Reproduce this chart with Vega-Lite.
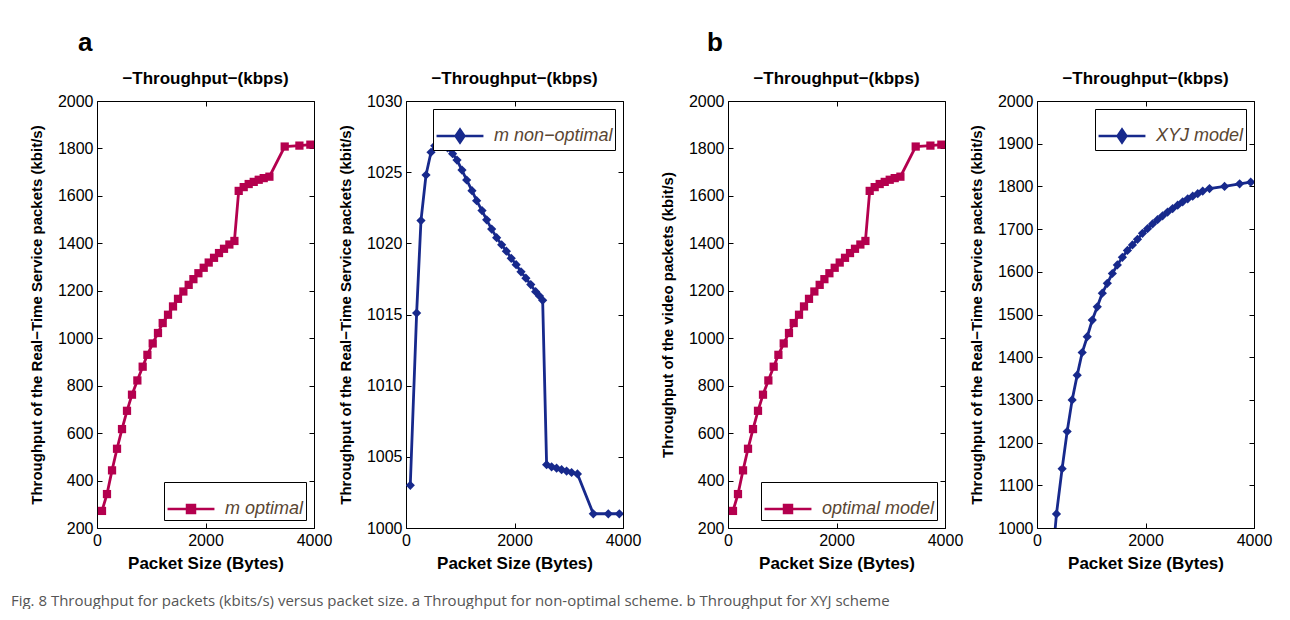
{
  "$schema": "https://vega.github.io/schema/vega-lite/v6.json",
  "autosize": {"type": "pad"},
  "padding": {"left": 10, "top": 29, "right": 0, "bottom": 0},
  "background": "white",
  "config": {
    "font": "Liberation Sans",
    "view": {"stroke": "black", "strokeWidth": 1},
    "axis": {
      "domain": false, "grid": false,
      "ticks": true, "tickColor": "black", "tickSize": -5, "tickWidth": 1,
      "labelFont": "Liberation Sans", "labelFontSize": 16, "labelColor": "black",
      "labelPadding": 9, "labelFlush": false, "labelOverlap": false,
      "titleFont": "Liberation Sans", "titleFontSize": 15, "titleFontWeight": "bold",
      "titleColor": "black", "titlePadding": 13
    },
    "axisX": {"titleFontSize": 17, "titlePadding": 7},
    "legend": {
      "title": null, "labelFont": "Liberation Sans", "labelFontStyle": "italic",
      "labelFontSize": 18, "labelColor": "#5a4632", "strokeColor": "black",
      "fillColor": "white", "padding": 2, "offset": 8, "labelOffset": 9,
      "symbolSize": 2200, "symbolStrokeWidth": 2.5
    },
    "title": {"font": "Liberation Sans", "fontSize": 17, "fontWeight": "bold", "color": "black", "offset": 5}
  },
  "datasets": {
    "optimal": [
      {"bytes": 92, "kbps": 272}, {"bytes": 184, "kbps": 343}, {"bytes": 277, "kbps": 443},
      {"bytes": 369, "kbps": 534}, {"bytes": 461, "kbps": 617}, {"bytes": 553, "kbps": 694},
      {"bytes": 645, "kbps": 762}, {"bytes": 744, "kbps": 822}, {"bytes": 842, "kbps": 880},
      {"bytes": 929, "kbps": 930}, {"bytes": 1027, "kbps": 978}, {"bytes": 1124, "kbps": 1022},
      {"bytes": 1211, "kbps": 1064}, {"bytes": 1309, "kbps": 1099}, {"bytes": 1401, "kbps": 1134},
      {"bytes": 1493, "kbps": 1166}, {"bytes": 1592, "kbps": 1197}, {"bytes": 1690, "kbps": 1225},
      {"bytes": 1777, "kbps": 1249}, {"bytes": 1869, "kbps": 1274}, {"bytes": 1967, "kbps": 1297},
      {"bytes": 2059, "kbps": 1319}, {"bytes": 2157, "kbps": 1339}, {"bytes": 2249, "kbps": 1359},
      {"bytes": 2341, "kbps": 1377}, {"bytes": 2440, "kbps": 1395}, {"bytes": 2533, "kbps": 1410},
      {"bytes": 2612, "kbps": 1621}, {"bytes": 2704, "kbps": 1637}, {"bytes": 2796, "kbps": 1650},
      {"bytes": 2889, "kbps": 1659}, {"bytes": 2981, "kbps": 1668}, {"bytes": 3073, "kbps": 1675},
      {"bytes": 3178, "kbps": 1681}, {"bytes": 3460, "kbps": 1808}, {"bytes": 3731, "kbps": 1812},
      {"bytes": 3933, "kbps": 1816}
    ],
    "nonOptimal": [
      {"bytes": 79, "kbps": 1003.0}, {"bytes": 196, "kbps": 1015.1}, {"bytes": 276, "kbps": 1021.6},
      {"bytes": 369, "kbps": 1024.8}, {"bytes": 461, "kbps": 1026.4}, {"bytes": 530, "kbps": 1026.85},
      {"bytes": 600, "kbps": 1027.15}, {"bytes": 675, "kbps": 1027.0}, {"bytes": 767, "kbps": 1026.7},
      {"bytes": 859, "kbps": 1026.3}, {"bytes": 940, "kbps": 1025.85}, {"bytes": 1032, "kbps": 1025.15},
      {"bytes": 1118, "kbps": 1024.45}, {"bytes": 1216, "kbps": 1023.7}, {"bytes": 1302, "kbps": 1023.0},
      {"bytes": 1401, "kbps": 1022.3}, {"bytes": 1487, "kbps": 1021.65}, {"bytes": 1579, "kbps": 1021.0},
      {"bytes": 1671, "kbps": 1020.4}, {"bytes": 1763, "kbps": 1019.9}, {"bytes": 1850, "kbps": 1019.45},
      {"bytes": 1940, "kbps": 1018.95}, {"bytes": 2030, "kbps": 1018.5}, {"bytes": 2120, "kbps": 1018.0},
      {"bytes": 2210, "kbps": 1017.55}, {"bytes": 2300, "kbps": 1017.1}, {"bytes": 2390, "kbps": 1016.6},
      {"bytes": 2460, "kbps": 1016.3}, {"bytes": 2519, "kbps": 1016.0}, {"bytes": 2592, "kbps": 1004.45},
      {"bytes": 2684, "kbps": 1004.3}, {"bytes": 2776, "kbps": 1004.2}, {"bytes": 2868, "kbps": 1004.1},
      {"bytes": 2960, "kbps": 1004.0}, {"bytes": 3052, "kbps": 1003.9}, {"bytes": 3160, "kbps": 1003.8},
      {"bytes": 3453, "kbps": 1001.0}, {"bytes": 3729, "kbps": 1001.0}, {"bytes": 3932, "kbps": 1001.0}
    ],
    "xyj": [
      {"bytes": 267, "kbps": 900}, {"bytes": 359, "kbps": 1033}, {"bytes": 463, "kbps": 1139},
      {"bytes": 556, "kbps": 1226}, {"bytes": 648, "kbps": 1300}, {"bytes": 741, "kbps": 1358},
      {"bytes": 833, "kbps": 1411}, {"bytes": 926, "kbps": 1448}, {"bytes": 1019, "kbps": 1487},
      {"bytes": 1111, "kbps": 1518}, {"bytes": 1204, "kbps": 1550}, {"bytes": 1296, "kbps": 1573},
      {"bytes": 1389, "kbps": 1596}, {"bytes": 1481, "kbps": 1616}, {"bytes": 1574, "kbps": 1634},
      {"bytes": 1667, "kbps": 1650}, {"bytes": 1759, "kbps": 1663}, {"bytes": 1852, "kbps": 1676},
      {"bytes": 1944, "kbps": 1690}, {"bytes": 2037, "kbps": 1701}, {"bytes": 2130, "kbps": 1712},
      {"bytes": 2222, "kbps": 1722}, {"bytes": 2315, "kbps": 1731}, {"bytes": 2407, "kbps": 1740},
      {"bytes": 2500, "kbps": 1748}, {"bytes": 2593, "kbps": 1756}, {"bytes": 2685, "kbps": 1764},
      {"bytes": 2778, "kbps": 1771}, {"bytes": 2870, "kbps": 1777}, {"bytes": 2963, "kbps": 1783},
      {"bytes": 3055, "kbps": 1789}, {"bytes": 3180, "kbps": 1795}, {"bytes": 3457, "kbps": 1800},
      {"bytes": 3735, "kbps": 1806}, {"bytes": 3939, "kbps": 1810}
    ]
  },
  "title": {
    "text": "Fig. 8 Throughput for packets (kbits/s) versus packet size. a Throughput for non-optimal scheme. b Throughput for XYJ scheme",
    "orient": "bottom", "anchor": "start", "font": "Open Sans", "fontSize": 15,
    "fontWeight": "normal", "color": "#555555", "dx": -18, "offset": 22
  },
  "spacing": 17,
  "resolve": {"scale": {"color": "independent"}, "legend": {"color": "independent"}},
  "hconcat": [
    {
      "title": {"text": "a", "anchor": "start", "fontSize": 26, "dx": 49, "offset": 14},
      "spacing": 92,
      "bounds": "flush",
      "resolve": {"scale": {"color": "independent"}, "legend": {"color": "independent"}},
      "hconcat": [
        {
          "width": 217, "height": 427,
          "title": {"text": "−Throughput−(kbps)"},
          "data": {"name": "optimal"},
          "layer": [
            {
              "mark": {"type": "line", "strokeWidth": 2.8, "clip": true},
              "encoding": {
                "x": {"field": "bytes", "type": "quantitative", "scale": {"domain": [0, 4000], "nice": false},
                      "axis": {"values": [0, 2000, 4000], "format": "d", "title": "Packet Size (Bytes)"}},
                "y": {"field": "kbps", "type": "quantitative", "scale": {"domain": [200, 2000], "nice": false, "zero": false},
                      "axis": {"values": [200, 400, 600, 800, 1000, 1200, 1400, 1600, 1800, 2000], "format": "d",
                               "title": "Throughput of the Real−Time Service packets (kbit/s)"}},
                "color": {"datum": "m optimal", "scale": {"range": ["#b4004e"]},
                          "legend": {"orient": "bottom-right",
                                     "symbolType": "M-1,0H1M-0.17,-0.17H0.17V0.17H-0.17Z",
                                     "encode": {"symbols": {"update": {"fill": {"value": "#b4004e"}, "stroke": {"value": "#b4004e"}, "strokeWidth": {"value": 2.5}, "opacity": {"value": 1}}}}}}
              }
            },
            {
              "mark": {"type": "point", "shape": "square", "filled": true, "size": 68, "opacity": 1, "clip": true},
              "encoding": {
                "x": {"field": "bytes", "type": "quantitative", "axis": null},
                "y": {"field": "kbps", "type": "quantitative", "axis": null},
                "color": {"datum": "m optimal"}
              }
            },
            {
              "mark": {"type": "line", "opacity": 0},
              "encoding": {
                "x": {"field": "bytes", "type": "quantitative", "axis": {"orient": "top", "values": [0, 2000, 4000], "labels": false, "title": null}},
                "y": {"field": "kbps", "type": "quantitative", "axis": {"orient": "right", "values": [200, 400, 600, 800, 1000, 1200, 1400, 1600, 1800, 2000], "labels": false, "title": null}}
              }
            }
          ],
          "resolve": {"axis": {"x": "independent", "y": "independent"}}
        },
        {
          "width": 217, "height": 427,
          "title": {"text": "−Throughput−(kbps)"},
          "data": {"name": "nonOptimal"},
          "layer": [
            {
              "mark": {"type": "line", "strokeWidth": 2.8, "clip": true},
              "encoding": {
                "x": {"field": "bytes", "type": "quantitative", "scale": {"domain": [0, 4000], "nice": false},
                      "axis": {"values": [0, 2000, 4000], "format": "d", "title": "Packet Size (Bytes)"}},
                "y": {"field": "kbps", "type": "quantitative", "scale": {"domain": [1000, 1030], "nice": false, "zero": false},
                      "axis": {"values": [1000, 1005, 1010, 1015, 1020, 1025, 1030], "format": "d",
                               "title": "Throughput of the Real−Time Service packets (kbit/s)"}},
                "color": {"datum": "m non−optimal", "scale": {"range": ["#17298c"]},
                          "legend": {"orient": "top-right",
                                     "symbolType": "M-1,0H1M0,-0.28L0.19,0L0,0.28L-0.19,0Z",
                                     "encode": {"symbols": {"update": {"fill": {"value": "#17298c"}, "stroke": {"value": "#17298c"}, "strokeWidth": {"value": 2.5}, "opacity": {"value": 1}}}}}}
              }
            },
            {
              "mark": {"type": "point", "shape": "diamond", "filled": true, "size": 85, "opacity": 1, "clip": true},
              "encoding": {
                "x": {"field": "bytes", "type": "quantitative", "axis": null},
                "y": {"field": "kbps", "type": "quantitative", "axis": null},
                "color": {"datum": "m non−optimal"}
              }
            },
            {
              "mark": {"type": "line", "opacity": 0},
              "encoding": {
                "x": {"field": "bytes", "type": "quantitative", "axis": {"orient": "top", "values": [0, 2000, 4000], "labels": false, "title": null}},
                "y": {"field": "kbps", "type": "quantitative", "axis": {"orient": "right", "values": [1000, 1005, 1010, 1015, 1020, 1025, 1030], "labels": false, "title": null}}
              }
            }
          ],
          "resolve": {"axis": {"x": "independent", "y": "independent"}}
        }
      ]
    },
    {
      "title": {"text": "b", "anchor": "start", "fontSize": 26, "dx": 47, "offset": 14},
      "spacing": 92,
      "bounds": "flush",
      "resolve": {"scale": {"color": "independent"}, "legend": {"color": "independent"}},
      "hconcat": [
        {
          "width": 217, "height": 427,
          "title": {"text": "−Throughput−(kbps)"},
          "data": {"name": "optimal"},
          "layer": [
            {
              "mark": {"type": "line", "strokeWidth": 2.8, "clip": true},
              "encoding": {
                "x": {"field": "bytes", "type": "quantitative", "scale": {"domain": [0, 4000], "nice": false},
                      "axis": {"values": [0, 2000, 4000], "format": "d", "title": "Packet Size (Bytes)"}},
                "y": {"field": "kbps", "type": "quantitative", "scale": {"domain": [200, 2000], "nice": false, "zero": false},
                      "axis": {"values": [200, 400, 600, 800, 1000, 1200, 1400, 1600, 1800, 2000], "format": "d",
                               "title": "Throughput of the video packets (kbit/s)"}},
                "color": {"datum": "optimal model", "scale": {"range": ["#b4004e"]},
                          "legend": {"orient": "bottom-right",
                                     "symbolType": "M-1,0H1M-0.17,-0.17H0.17V0.17H-0.17Z",
                                     "encode": {"symbols": {"update": {"fill": {"value": "#b4004e"}, "stroke": {"value": "#b4004e"}, "strokeWidth": {"value": 2.5}, "opacity": {"value": 1}}}}}}
              }
            },
            {
              "mark": {"type": "point", "shape": "square", "filled": true, "size": 68, "opacity": 1, "clip": true},
              "encoding": {
                "x": {"field": "bytes", "type": "quantitative", "axis": null},
                "y": {"field": "kbps", "type": "quantitative", "axis": null},
                "color": {"datum": "optimal model"}
              }
            },
            {
              "mark": {"type": "line", "opacity": 0},
              "encoding": {
                "x": {"field": "bytes", "type": "quantitative", "axis": {"orient": "top", "values": [0, 2000, 4000], "labels": false, "title": null}},
                "y": {"field": "kbps", "type": "quantitative", "axis": {"orient": "right", "values": [200, 400, 600, 800, 1000, 1200, 1400, 1600, 1800, 2000], "labels": false, "title": null}}
              }
            }
          ],
          "resolve": {"axis": {"x": "independent", "y": "independent"}}
        },
        {
          "width": 217, "height": 427,
          "title": {"text": "−Throughput−(kbps)"},
          "data": {"name": "xyj"},
          "layer": [
            {
              "mark": {"type": "line", "strokeWidth": 2.8, "clip": true},
              "encoding": {
                "x": {"field": "bytes", "type": "quantitative", "scale": {"domain": [0, 4000], "nice": false},
                      "axis": {"values": [0, 2000, 4000], "format": "d", "title": "Packet Size (Bytes)"}},
                "y": {"field": "kbps", "type": "quantitative", "scale": {"domain": [1000, 2000], "nice": false, "zero": false},
                      "axis": {"values": [1000, 1100, 1200, 1300, 1400, 1500, 1600, 1700, 1800, 1900, 2000], "format": "d",
                               "title": "Throughput of the Real−Time Service packets (kbit/s)"}},
                "color": {"datum": "XYJ model", "scale": {"range": ["#17298c"]},
                          "legend": {"orient": "top-right",
                                     "symbolType": "M-1,0H1M0,-0.28L0.19,0L0,0.28L-0.19,0Z",
                                     "encode": {"symbols": {"update": {"fill": {"value": "#17298c"}, "stroke": {"value": "#17298c"}, "strokeWidth": {"value": 2.5}, "opacity": {"value": 1}}}}}}
              }
            },
            {
              "mark": {"type": "point", "shape": "diamond", "filled": true, "size": 85, "opacity": 1, "clip": true},
              "encoding": {
                "x": {"field": "bytes", "type": "quantitative", "axis": null},
                "y": {"field": "kbps", "type": "quantitative", "axis": null},
                "color": {"datum": "XYJ model"}
              }
            },
            {
              "mark": {"type": "line", "opacity": 0},
              "encoding": {
                "x": {"field": "bytes", "type": "quantitative", "axis": {"orient": "top", "values": [0, 2000, 4000], "labels": false, "title": null}},
                "y": {"field": "kbps", "type": "quantitative", "axis": {"orient": "right", "values": [1000, 1100, 1200, 1300, 1400, 1500, 1600, 1700, 1800, 1900, 2000], "labels": false, "title": null}}
              }
            }
          ],
          "resolve": {"axis": {"x": "independent", "y": "independent"}}
        }
      ]
    }
  ]
}
